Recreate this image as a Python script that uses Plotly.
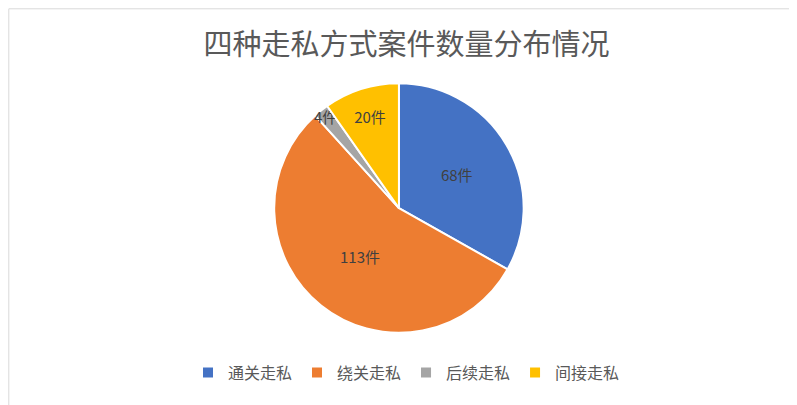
import plotly.graph_objects as go

# 走私方式及案件数量
labels = ['通关走私', '绕关走私', '后续走私', '间接走私']
values = [68, 113, 4, 20]
colors = ['#4472C4', '#ED7D31', '#A5A5A5', '#FFC000']
texts = [str(v) + '件' for v in values]

trace = go.Pie(
    labels=labels,
    values=values,
    text=texts,
    textinfo='text',
    textposition='inside',
    insidetextorientation='horizontal',
    textfont=dict(size=15, color='#404040'),
    marker=dict(colors=colors, line=dict(color='white', width=2)),
    sort=False,
    direction='clockwise',
    rotation=0,
    domain=dict(x=[0.334, 0.647], y=[0.197, 0.815]),
    hoverinfo='label+value+percent',
)

layout = go.Layout(
    width=797,
    height=405,
    margin=dict(l=0, r=0, t=0, b=0),
    paper_bgcolor='white',
    font=dict(family='Noto Sans CJK SC', color='#595959'),
    title=dict(
        text='四种走私方式案件数量分布情况',
        x=0.5, xanchor='center',
        y=0.91, yanchor='middle',
        font=dict(size=29, color='#595959'),
    ),
    uniformtext=dict(minsize=15, mode='show'),
    legend=dict(
        orientation='h',
        x=0.5, xanchor='center',
        y=0.1, yanchor='middle',
        font=dict(size=16, color='#595959'),
        itemwidth=30,
    ),
    shapes=[dict(
        type='rect', xref='paper', yref='paper',
        x0=0.001, y0=0.002, x1=0.999, y1=0.998,
        line=dict(color='#D9D9D9', width=1),
    )],
)

fig = go.Figure(data=[trace], layout=layout)
fig.write_html("out.html")
